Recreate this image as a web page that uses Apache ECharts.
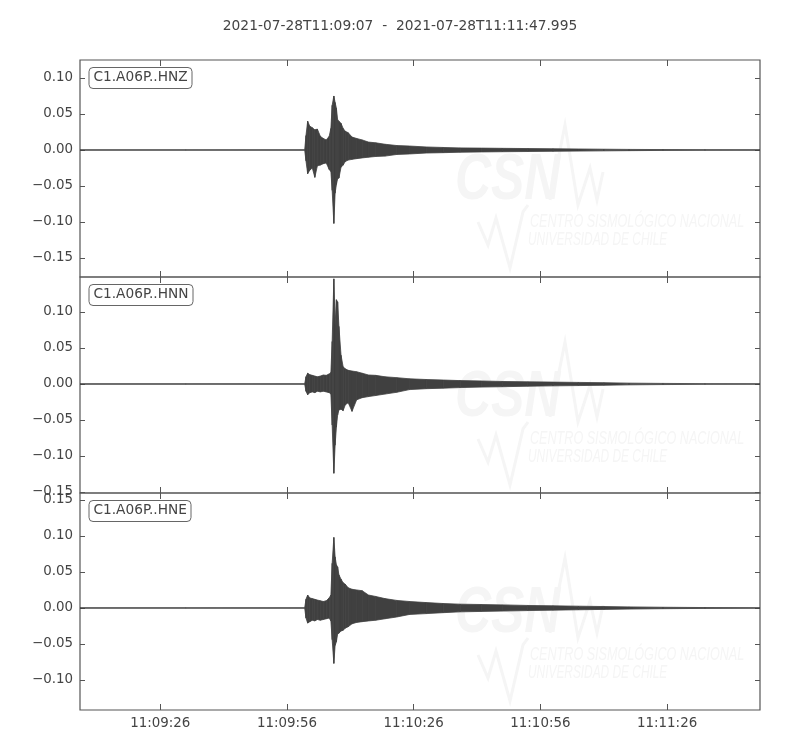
<!DOCTYPE html>
<html>
<head>
<meta charset="utf-8">
<script src="https://cdn.jsdelivr.net/npm/echarts@6.0.0/dist/echarts.min.js"></script>
<style>
html,body{margin:0;padding:0;background:#fff}
#chart{width:800px;height:750px}
</style>
</head>
<body>
<div id="chart"></div>
<script>
// ---- data (seconds after 2021-07-28T11:09:07) ----
const titleText = '2021-07-28T11:09:07  -  2021-07-28T11:11:47.995';
const duration = 160.995;
const channels = ['C1.A06P..HNZ', 'C1.A06P..HNN', 'C1.A06P..HNE'];

// envelope sample times (s)
const T = [0, 25, 53.2, 53.5, 53.9, 54.4, 55.0, 55.6, 56.2, 56.9, 57.6, 58.3, 59.0, 59.4, 59.7, 60.1, 60.4, 60.7, 61.0, 61.3,
  61.8, 62.3, 62.8, 63.5, 64.4, 65.5, 66.8, 68.3, 70.0, 72.2, 75, 78, 82, 86, 90, 95, 100, 106, 112, 118, 124, 130, 138, 148, 160.995];

// HNZ envelope (upper / lower)
const hnzUp = [0.0003, 0.0003, 0.0004, 0.020, 0.040, 0.033, 0.031, 0.028, 0.029, 0.019, 0.016, 0.014, 0.019, 0.030, 0.062, 0.075, 0.066, 0.058, 0.042, 0.040,
  0.037, 0.030, 0.026, 0.024, 0.018, 0.016, 0.014, 0.011, 0.010, 0.008, 0.0062, 0.0055, 0.0042, 0.0035, 0.0029, 0.0026, 0.0023, 0.002, 0.0017, 0.0014, 0.0011, 0.0008, 0.0006, 0.0005, 0.0004];
const hnzLo = [-0.0003, -0.0003, -0.0004, -0.015, -0.033, -0.028, -0.025, -0.038, -0.022, -0.021, -0.019, -0.018, -0.027, -0.030, -0.056, -0.102, -0.060, -0.048, -0.040, -0.039,
  -0.024, -0.021, -0.016, -0.014, -0.013, -0.012, -0.011, -0.010, -0.009, -0.0085, -0.0062, -0.0055, -0.0042, -0.0037, -0.0031, -0.0027, -0.0024, -0.0021, -0.0018, -0.0015, -0.0012, -0.0009, -0.0006, -0.0005, -0.0004];

// HNN envelope
const hnnUp = [0.0003, 0.0003, 0.0004, 0.010, 0.015, 0.013, 0.012, 0.011, 0.010, 0.011, 0.0125, 0.012, 0.014, 0.016, 0.059, 0.146, 0.082, 0.117, 0.114, 0.080,
  0.040, 0.024, 0.021, 0.019, 0.018, 0.017, 0.015, 0.0125, 0.012, 0.010, 0.0088, 0.0072, 0.0062, 0.0055, 0.0047, 0.0042, 0.0035, 0.003, 0.0026, 0.0022, 0.0018, 0.0012, 0.0008, 0.0005, 0.0004];
const hnnLo = [-0.0003, -0.0003, -0.0004, -0.010, -0.015, -0.012, -0.011, -0.012, -0.010, -0.011, -0.010, -0.011, -0.012, -0.014, -0.057, -0.124, -0.085, -0.060, -0.043, -0.036,
  -0.035, -0.037, -0.029, -0.026, -0.038, -0.022, -0.019, -0.0175, -0.016, -0.014, -0.0115, -0.0078, -0.0065, -0.0058, -0.005, -0.0043, -0.0038, -0.0031, -0.0026, -0.0022, -0.0018, -0.0012, -0.0008, -0.0005, -0.0004];

// HNE envelope
const hneUp = [0.0003, 0.0003, 0.0004, 0.012, 0.018, 0.014, 0.013, 0.012, 0.011, 0.010, 0.009, 0.010, 0.014, 0.018, 0.062, 0.098, 0.071, 0.060, 0.057, 0.046,
  0.040, 0.035, 0.033, 0.028, 0.026, 0.025, 0.024, 0.018, 0.016, 0.013, 0.0105, 0.009, 0.0075, 0.0062, 0.0053, 0.0048, 0.0043, 0.0035, 0.003, 0.0025, 0.002, 0.0015, 0.001, 0.0006, 0.0004];
const hneLo = [-0.0003, -0.0003, -0.0004, -0.014, -0.021, -0.019, -0.017, -0.018, -0.016, -0.017, -0.016, -0.015, -0.014, -0.018, -0.044, -0.077, -0.052, -0.047, -0.036, -0.035,
  -0.032, -0.031, -0.028, -0.026, -0.022, -0.020, -0.019, -0.018, -0.017, -0.015, -0.0125, -0.009, -0.0078, -0.0065, -0.0054, -0.0048, -0.0043, -0.0036, -0.003, -0.0025, -0.002, -0.0015, -0.001, -0.0006, -0.0004];

// ticks
const xTickSec = [19, 49, 79, 109, 139];
const xTickLabels = ['11:09:26', '11:09:56', '11:10:26', '11:10:56', '11:11:26'];
const yTicksHNZ = [-0.15, -0.10, -0.05, 0, 0.05, 0.10];
const yTicksHNN = [-0.15, -0.10, -0.05, 0, 0.05, 0.10];
const yTicksHNE = [-0.10, -0.05, 0, 0.05, 0.10, 0.15];
const yRangeHNZ = [-0.1764, 0.125];
const yRangeHNN = [-0.1514, 0.1486];
const yRangeHNE = [-0.1417, 0.1597];

// ---- build chart ----
const FONT = 'DejaVu Sans';
const TXT = '#444444';
const FRAME = '#555555';
const TRACE = '#404040';

const ups = [hnzUp, hnnUp, hneUp];
const los = [hnzLo, hnnLo, hneLo];
const yTicks = [yTicksHNZ, yTicksHNN, yTicksHNE];
const yRanges = [yRangeHNZ, yRangeHNN, yRangeHNE];
const tops = [60, 277, 493];
const heights = [217, 216, 217];

const grid = [], xAxis = [], yAxis = [], series = [], titles = [], graphics = [];

titles.push({
  text: titleText, left: 'center', top: 13,
  textStyle: {fontFamily: FONT, fontSize: 13.8, fontWeight: 'normal', color: TXT, lineHeight: 16}
});

const fmtY = v => (Math.abs(v) < 1e-9 ? 0 : v).toFixed(2).replace('-', '\u2212');
const xLab = v => { const i = xTickSec.indexOf(Math.round(v)); return i >= 0 ? xTickLabels[i] : ''; };

// band segment renderer: each item = [t0, up0, lo0, t1, up1, lo1]
function renderBand(params, api) {
  const a = api.coord([api.value(0), api.value(1)]);
  const b = api.coord([api.value(3), api.value(4)]);
  const c = api.coord([api.value(3), api.value(5)]);
  const d = api.coord([api.value(0), api.value(2)]);
  return {
    type: 'polygon',
    shape: {points: [a, b, c, d]},
    style: {fill: TRACE, stroke: TRACE, lineWidth: 0.8, lineJoin: 'round'}
  };
}

for (let p = 0; p < 3; p++) {
  grid.push({left: 80, width: 680, top: tops[p], height: heights[p], show: true,
    borderColor: FRAME, borderWidth: 1.2, backgroundColor: 'transparent', containLabel: false});
  const isLast = p === 2;
  ['bottom', 'top'].forEach(pos => {
    xAxis.push({
      type: 'value', gridIndex: p, position: pos, min: 0, max: duration,
      axisLine: {show: false, onZero: false},
      splitLine: {show: false},
      axisTick: {show: true, inside: true, length: 6, customValues: xTickSec, lineStyle: {color: FRAME, width: 1}},
      axisLabel: {show: isLast && pos === 'bottom', customValues: xTickSec, formatter: xLab, margin: 7,
        fontFamily: FONT, fontSize: 13.4, color: TXT}
    });
  });
  ['left', 'right'].forEach(pos => {
    yAxis.push({
      type: 'value', gridIndex: p, position: pos, min: yRanges[p][0], max: yRanges[p][1],
      axisLine: {show: false, onZero: false},
      splitLine: {show: false},
      axisTick: {show: true, inside: true, length: 5, customValues: yTicks[p], lineStyle: {color: FRAME, width: 1}},
      axisLabel: {show: pos === 'left', customValues: yTicks[p], formatter: fmtY, margin: 7,
        fontFamily: FONT, fontSize: 13.4, color: TXT}
    });
  });
  const segs = [];
  for (let i = 0; i < T.length - 1; i++) {
    segs.push([T[i], ups[p][i], los[p][i], T[i + 1], ups[p][i + 1], los[p][i + 1]]);
  }
  series.push({
    type: 'custom', name: channels[p], xAxisIndex: p * 2, yAxisIndex: p * 2,
    renderItem: renderBand, data: segs, clip: true, animation: false, silent: true,
    encode: {x: [0, 3], y: [1, 2, 4, 5]}, z: 3
  });
  titles.push({
    text: channels[p], left: 89, top: tops[p] + 7,
    borderColor: '#666666', borderWidth: 1, borderRadius: 4, backgroundColor: '#ffffff',
    padding: [3, 4.5],
    textStyle: {fontFamily: FONT, fontSize: 13.7, fontWeight: 'normal', color: TXT, lineHeight: 15.5}
  });

  // faint watermark
  const o = tops[p] - 60;
  const WM = '#f5f5f5';
  graphics.push({type: 'text', x: 455, y: 181 + o, scaleX: 0.78, originX: 0, originY: 0, z: 1, silent: true,
    style: {text: 'CSN', font: 'italic bold 64px "Liberation Sans"', fill: WM, verticalAlign: 'middle', align: 'left'}});
  graphics.push({type: 'text', x: 530, y: 222 + o, scaleX: 0.7, originX: 0, originY: 0, z: 1, silent: true,
    style: {text: 'CENTRO SISMOLÓGICO NACIONAL', font: 'italic 18px "Liberation Sans"', fill: WM, verticalAlign: 'middle', align: 'left'}});
  graphics.push({type: 'text', x: 528, y: 240 + o, scaleX: 0.66, originX: 0, originY: 0, z: 1, silent: true,
    style: {text: 'UNIVERSIDAD DE CHILE', font: 'italic 18px "Liberation Sans"', fill: WM, verticalAlign: 'middle', align: 'left'}});
  graphics.push({type: 'polyline', z: 1, silent: true,
    shape: {points: [[478, 222 + o], [488, 245 + o], [496, 218 + o], [510, 268 + o], [523, 212 + o], [528, 205 + o]]},
    style: {stroke: WM, lineWidth: 3, fill: null}});
  graphics.push({type: 'polyline', z: 1, silent: true,
    shape: {points: [[550, 200 + o], [565, 125 + o], [578, 205 + o], [590, 168 + o], [597, 200 + o], [603, 172 + o]]},
    style: {stroke: WM, lineWidth: 3, fill: null}});
}

const chart = echarts.init(document.getElementById('chart'), null, {renderer: 'canvas'});
chart.setOption({
  backgroundColor: '#ffffff',
  animation: false,
  title: titles,
  grid: grid,
  xAxis: xAxis,
  yAxis: yAxis,
  series: series,
  graphic: graphics
});
</script>
</body>
</html>
